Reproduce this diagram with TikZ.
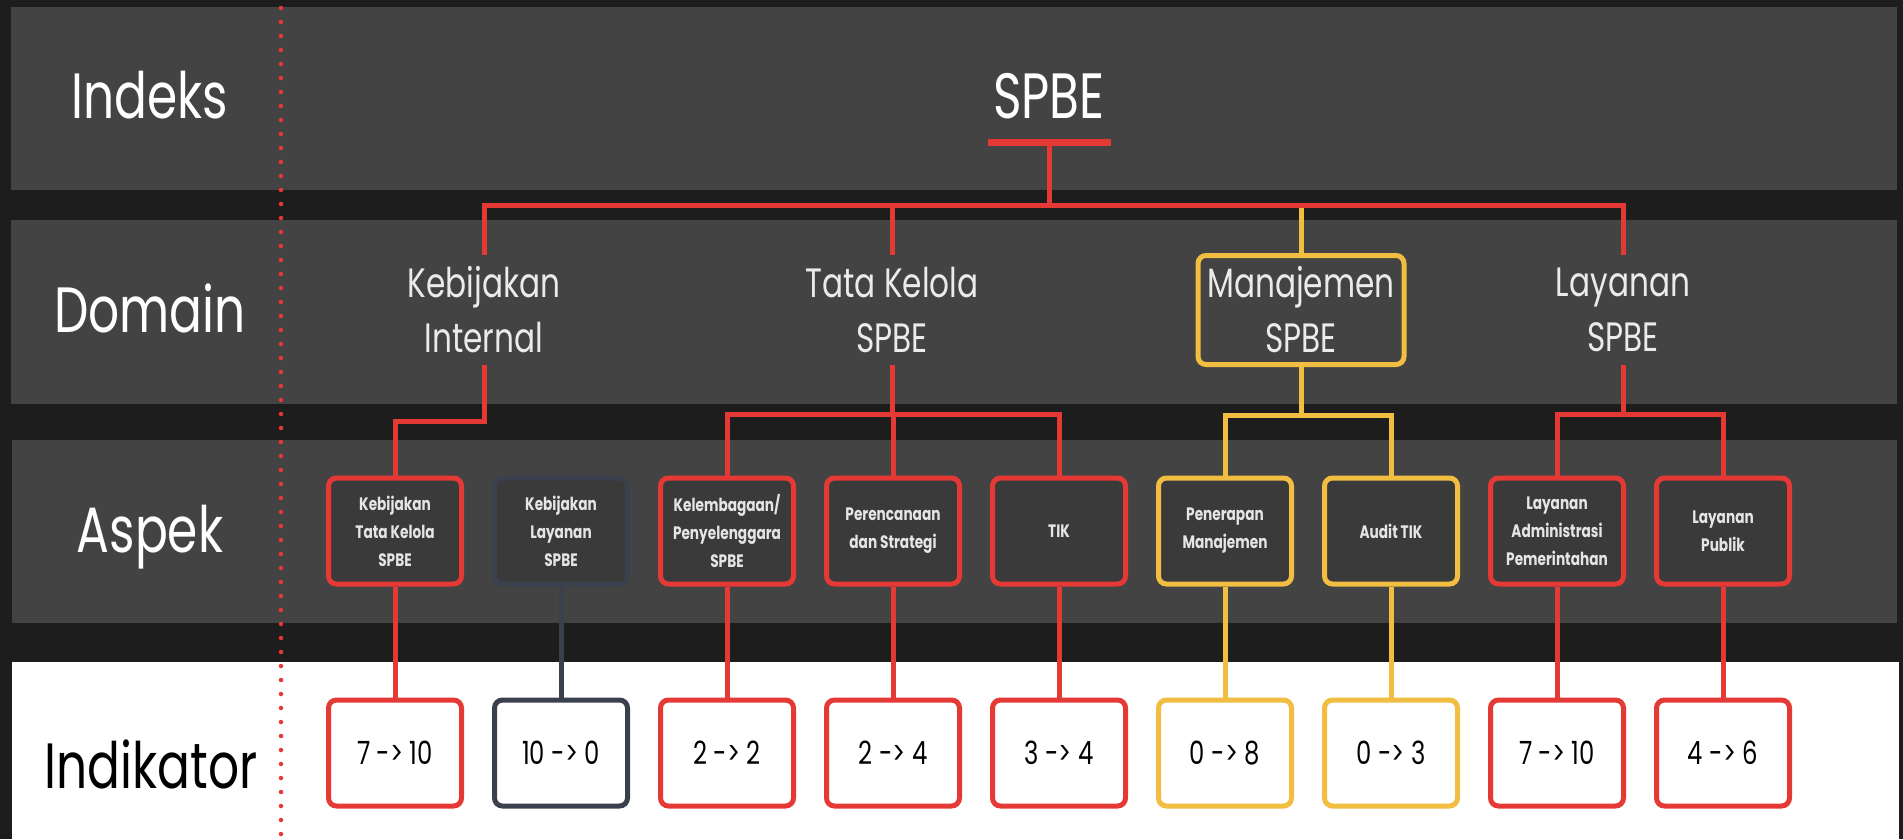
\documentclass[tikz,border=0pt]{standalone}
\usepackage{fontspec}
\setmainfont{Poppins}[FakeStretch=0.76]
\usetikzlibrary{positioning}

\definecolor{spbered}{HTML}{E53935}
\definecolor{spbeyellow}{HTML}{F2BE42}
\definecolor{spbeslate}{HTML}{3A404D}
\definecolor{bgdark}{HTML}{1D1D1D}
\definecolor{bandgray}{HTML}{434343}
\definecolor{boxgray}{HTML}{3A3A3A}

\begin{document}
\begin{tikzpicture}
  [x=1pt,y=-1pt,node distance=166pt,on grid,
  every node/.style={inner sep=0pt},
  rowlabel/.style={anchor=base,text=white,font=\fontsize{64}{70}\selectfont},
  domain box/.style={minimum width=206pt,minimum height=109pt,align=center,
    text=black!8,font=\fontsize{41}{55}\selectfont},
  aspek/.style={draw=spbered,line width=5pt,rounded corners=8pt,fill=boxgray,
    minimum width=133pt,minimum height=106pt,align=center,
    text=black!10,font=\bfseries\fontsize{18}{28}\selectfont},
  indikator/.style={aspek,fill=white,text=black,font=\fontsize{32}{36}\selectfont},
  yellow box/.style={draw=spbeyellow},
  slate box/.style={draw=spbeslate},
  red link/.style={draw=spbered,line width=5pt},
  yellow link/.style={draw=spbeyellow,line width=5pt},
  slate link/.style={draw=spbeslate,line width=5pt}]
  \useasboundingbox (0,0) rectangle (1903,839);
  % bands
  \fill[bgdark] (0,0) rectangle (1903,839);
  \fill[bandgray] (11,7) rectangle (1897,190);
  \fill[bandgray] (11,220) rectangle (1897,404);
  \fill[bandgray] (12,440) rectangle (1897,623);
  \fill[white] (12,662) rectangle (1899,839);
  \draw[spbered,line width=4.5pt,line cap=round,dash pattern=on 0pt off 14pt]
    (281,8) -- (281,836);
  \node[rowlabel] (indeks) at (150,118) {Indeks};
  \node[rowlabel] (domain row) at (150,332) {Domain};
  \node[rowlabel] (aspek row) at (150,552) {Aspek};
  \node[rowlabel,text=black] (indikator row) at (151,788) {Indikator};
  \node[rowlabel] (spbe) at (1049,118) {SPBE};
  \coordinate (spbe bar) at (1049,142);
  \coordinate (bus) at (1049,205);
  \node[domain box] (kebijakan internal) at (484,310) {Kebijakan\\Internal};
  \node[domain box] (tata kelola) at (892,310) {Tata Kelola\\SPBE};
  \node[domain box,draw=spbeyellow,line width=5pt,rounded corners=8pt] (manajemen)
    at (1301,310) {Manajemen\\SPBE};
  \node[domain box] (layanan) at (1623,310) {Layanan\\SPBE};
  \node[aspek] (kebijakan tk) at (395,531) {Kebijakan\\Tata Kelola\\SPBE};
  \node[aspek,slate box] (kebijakan layanan) [right=of kebijakan tk] {Kebijakan\\Layanan\\SPBE};
  \node[aspek] (kelembagaan) [right=of kebijakan layanan] {Kelembagaan/\\Penyelenggara\\SPBE};
  \node[aspek] (perencanaan) [right=of kelembagaan] {Perencanaan\\dan Strategi};
  \node[aspek] (tik) [right=of perencanaan] {TIK};
  \node[aspek,yellow box] (penerapan) [right=of tik] {Penerapan\\Manajemen};
  \node[aspek,yellow box] (audit tik) [right=of penerapan] {Audit TIK};
  \node[aspek] (layanan adm) [right=of audit tik] {Layanan\\Administrasi\\Pemerintahan};
  \node[aspek] (layanan publik) [right=of layanan adm] {Layanan\\Publik};
  \node[indikator] (ind kebijakan tk) [below=222pt of kebijakan tk] {7 -> 10};
  \node[indikator,slate box] (ind kebijakan layanan) [below=222pt of kebijakan layanan] {10 -> 0};
  \node[indikator] (ind kelembagaan) [below=222pt of kelembagaan] {2 -> 2};
  \node[indikator] (ind perencanaan) [below=222pt of perencanaan] {2 -> 4};
  \node[indikator] (ind tik) [below=222pt of tik] {3 -> 4};
  \node[indikator,yellow box] (ind penerapan) [below=222pt of penerapan] {0 -> 8};
  \node[indikator,yellow box] (ind audit tik) [below=222pt of audit tik] {0 -> 3};
  \node[indikator] (ind layanan adm) [below=222pt of layanan adm] {7 -> 10};
  \node[indikator] (ind layanan publik) [below=222pt of layanan publik] {4 -> 6};
  % indeks -> domain
  \draw[yellow link] (manajemen.north) -- (manajemen.north |- bus);
  \draw[red link] (spbe bar) -- (bus);
  \draw[red link] (kebijakan internal.north) -- (kebijakan internal.north |- bus)
    -- (layanan.north |- bus) -- (layanan.north);
  \draw[red link] (tata kelola.north) -- (tata kelola.north |- bus);
  \draw[red link,line width=7pt] ([xshift=-61pt]spbe bar) -- ([xshift=62pt]spbe bar);
  % domain -> aspek
  \draw[red link] (kebijakan internal.south) -- ++(0,57) -| (kebijakan tk.north);
  \draw[red link] (tata kelola.south) -- ++(0,50) coordinate (tata fork);
  \draw[red link] (kelembagaan.north) |- (tata fork) -| (tik.north);
  \draw[red link] (perencanaan.north) -- (perencanaan.north |- tata fork);
  \draw[yellow link] (manajemen.south) -- ++(0,48) coordinate (manajemen fork);
  \draw[yellow link] (penerapan.north) |- (manajemen fork) -| (audit tik.north);
  \draw[red link] (layanan.south) -- ++(0,50) coordinate (layanan fork);
  \draw[red link] (layanan adm.north) |- (layanan fork) -| (layanan publik.north);
  % aspek -> indikator
  \draw[red link] (kebijakan tk.south) -- (ind kebijakan tk.north);
  \draw[slate link] (kebijakan layanan.south) -- (ind kebijakan layanan.north);
  \draw[red link] (kelembagaan.south) -- (ind kelembagaan.north);
  \draw[red link] (perencanaan.south) -- (ind perencanaan.north);
  \draw[red link] (tik.south) -- (ind tik.north);
  \draw[yellow link] (penerapan.south) -- (ind penerapan.north);
  \draw[yellow link] (audit tik.south) -- (ind audit tik.north);
  \draw[red link] (layanan adm.south) -- (ind layanan adm.north);
  \draw[red link] (layanan publik.south) -- (ind layanan publik.north);
\end{tikzpicture}
\end{document}
